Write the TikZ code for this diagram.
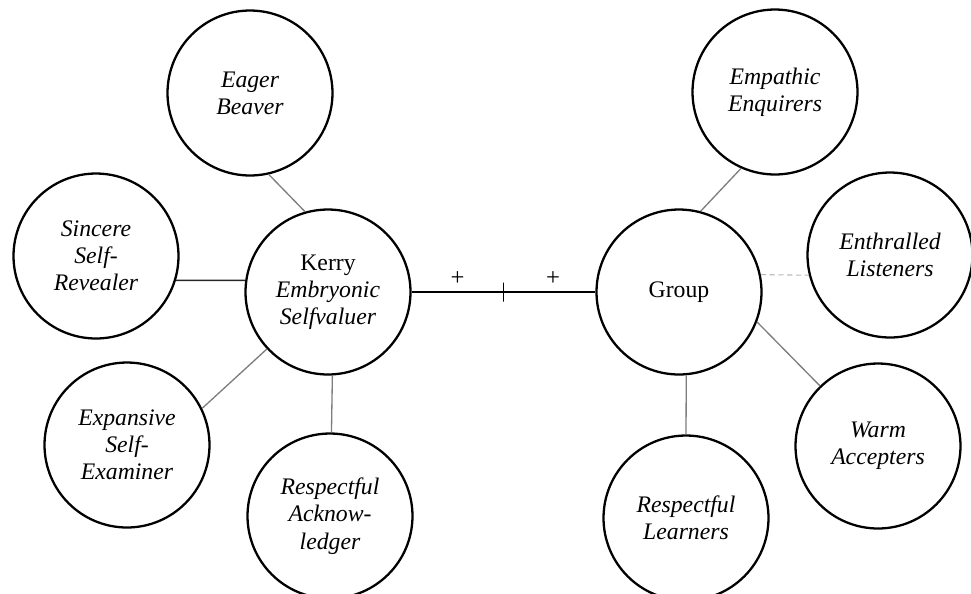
\documentclass[tikz,border=0pt]{standalone}
\usepackage{fontspec}
\setmainfont{Liberation Serif}
\usepackage{tikz}
\usetikzlibrary{positioning}
\usepackage{xcolor}
\definecolor{LinkGray}{RGB}{125,125,125}

\begin{document}
\begin{tikzpicture}[x=0.02cm, y=-0.02cm,
          role/.style={circle, draw=black, line width=1.3pt, minimum size=3.3cm, inner sep=0pt, align=center, font=\fontsize{13.5}{15.5}\selectfont\itshape},
          hub/.style={role, font=\fontsize{13.5}{15.5}\selectfont},
          link/.style={LinkGray, line width=0.75pt},
          strong/.style={black!85, line width=0.9pt},
          faint/.style={gray!55, line width=0.6pt, densely dashed},
          plus/.style={font=\fontsize{14}{14}\selectfont, inner sep=1pt},
          tickmark/.style={draw, minimum width=0pt, minimum height=0.38cm, inner sep=0pt, line width=0.9pt}
        ]
          \useasboundingbox (0,0) rectangle (971,593);

          % Kerry side
          \node (kerry) [hub] at (328,292) {Kerry\\ \textit{Embryonic}\\ \textit{Selfvaluer}};
          \node (eager) [role] at (250,93) {Eager\\ Beaver};
          \node (sincere) [role] at (96,256) {Sincere\\ Self-\\ Revealer};
          \node (expansive) [role] at (127,445) {Expansive\\ Self-\\ Examiner};
          \node (acknow) [role] at (330,516) {Respectful\\ Acknow-\\ ledger};

          % group side
          \node (group) [hub] at (679,292) {Group};
          \node (empathic) [role] at (775,92) {Empathic\\ Enquirers};
          \node (enthralled) [role] at (890,255) {Enthralled\\ Listeners};
          \node (warm) [role] at (878,446) {Warm\\ Accepters};
          \node (learners) [role] at (686,518) {Respectful\\ Learners};

          \draw[link] (eager.-77) -- (kerry.106);
          \draw[strong] (sincere.-17) -- (kerry.172);
          \draw[link] (expansive.26) -- (kerry.223);
          \draw[link] (kerry.-87) -- (acknow.89);

          \draw[link] (empathic.-114) -- (group.75);
          \draw[faint] (group.12) -- (enthralled.194);
          \draw[link] (group.-21) -- (warm.134);
          \draw[link] (group.-85) -- (learners.90);

          \draw[black, line width=0.9pt] (kerry.east) --
            node[plus, pos=0.25, above=0.08cm] {+}
            node[tickmark, pos=0.5] (mid) {}
            node[plus, pos=0.77, above=0.08cm] {+} (group.west);
        \end{tikzpicture}
\end{document}
